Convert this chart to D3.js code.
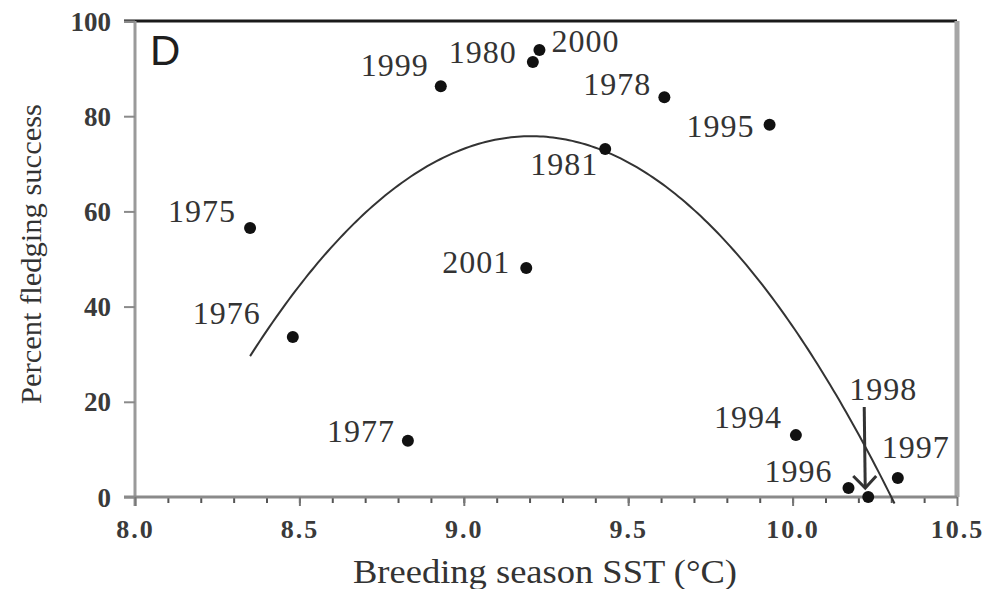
<!DOCTYPE html>
<html>
<head>
<meta charset="utf-8">
<script src="https://cdn.jsdelivr.net/npm/d3@7/dist/d3.min.js"></script>
<style>
  html, body { margin: 0; padding: 0; background: #fff; }
  svg { display: block; }
</style>
</head>
<body>
<svg id="chart" width="1000" height="589"></svg>
<script>
// Breeding season sea-surface temperature vs. fledging success, by year
const years       = [1975, 1976, 1977, 1978, 1980, 1981, 1994, 1995, 1996, 1997, 1998, 1999, 2000, 2001];
const sstValues   = [8.35, 8.48, 8.83, 9.61, 9.21, 9.43, 10.01, 9.93, 10.17, 10.32, 10.23, 8.93, 9.23, 9.19];
const successPct  = [56.5, 33.6, 11.8, 84.0, 91.4, 73.1, 13.0, 78.2, 1.9, 4.0, 0.0, 86.3, 93.9, 48.1];

// Quadratic fit, vertex form: [peak SST, peak success, curvature], over the fitted SST range
const trendFit    = [9.205, 75.8, 63.2];
const trendRange  = [8.35, 10.31];

const xTicks      = [8.0, 8.5, 9.0, 9.5, 10.0, 10.5];
const xMinorTicks = d3.range(81, 105).map(d => d / 10);
const yTicks      = [0, 20, 40, 60, 80, 100];

const panelLabel  = "D";
const xTitle      = "Breeding season SST (°C)";
const yTitle      = "Percent fledging success";
const arrowYear   = 1998;

// Label placement relative to each point (text start, baseline), in pixels
const labelOffsets = {
  1975: [-82, -6], 1976: [-100, -13], 1977: [-81, 1], 1978: [-81, -2],
  1980: [-84, 1],  1981: [-75, 26],   1994: [-82, -7], 1995: [-83, 12],
  1996: [-84, -6], 1997: [-16, -20],  1998: [-19, -97], 1999: [-80, -10],
  2000: [12, 2],   2001: [-84, 5]
};

const serif = "'Liberation Serif', 'Times New Roman', serif";
const sans  = "'Liberation Sans', Arial, sans-serif";

const svg = d3.select("#chart");
const margin = { top: 21, right: 43, bottom: 92, left: 135 };
const W = 1000, H = 589;
const innerW = W - margin.left - margin.right;
const innerH = H - margin.top - margin.bottom;

const x = d3.scaleLinear().domain([8.0, 10.5]).range([margin.left, margin.left + innerW]);
const y = d3.scaleLinear().domain([0, 100]).range([margin.top + innerH, margin.top]);

const textColor = "#333";

// Frame: dark top rule, grey right edge
svg.append("line")
  .attr("x1", x(8.0) - 11).attr("x2", x(10.5))
  .attr("y1", y(100)).attr("y2", y(100))
  .attr("stroke", "#1a1a1a").attr("stroke-width", 3);
svg.append("line")
  .attr("x1", x(10.5)).attr("x2", x(10.5))
  .attr("y1", y(100)).attr("y2", y(0))
  .attr("stroke", "#a6a6a6").attr("stroke-width", 5);

// Y axis
const yAxis = d3.axisLeft(y).tickValues(yTicks).tickSize(11).tickPadding(13).tickFormat(d3.format("d"));
const gy = svg.append("g").attr("transform", `translate(${x(8.0)},0)`).call(yAxis);
gy.select(".domain").attr("stroke", "#9a9a9a").attr("stroke-width", 3)
  .attr("d", `M-0,${y(100)}V${y(0) + 9}`);
gy.selectAll(".tick line").attr("stroke", "#8a8a8a").attr("stroke-width", 2);
gy.selectAll(".tick text")
  .style("font-family", serif).style("font-size", "27px").style("font-weight", "bold")
  .attr("fill", "#3a3a3a").attr("dy", "0.34em");

// X axis: minor ticks every 0.1, labelled majors every 0.5
const gxMinor = svg.append("g").attr("transform", `translate(0,${y(0)})`)
  .call(d3.axisBottom(x).tickValues(xMinorTicks).tickSize(6).tickFormat(""));
gxMinor.select(".domain").remove();
gxMinor.selectAll(".tick line").attr("stroke", "#555").attr("stroke-width", 2);

const xAxis = d3.axisBottom(x).tickValues(xTicks).tickSize(9).tickPadding(14).tickFormat(d3.format(".1f"));
const gx = svg.append("g").attr("transform", `translate(0,${y(0)})`).call(xAxis);
gx.select(".domain").attr("stroke", "#8a8a8a").attr("stroke-width", 3)
  .attr("d", `M${x(8.0) - 11},0H${x(10.5)}`);
gx.selectAll(".tick line").attr("stroke", "#777").attr("stroke-width", 2);
gx.selectAll(".tick text")
  .style("font-family", serif).style("font-size", "26px").style("font-weight", "bold")
  .style("letter-spacing", "2px")
  .attr("fill", "#3a3a3a").attr("dy", "0.71em");

// Axis titles
svg.append("text")
  .attr("x", 545).attr("y", 583)
  .attr("text-anchor", "middle")
  .style("font-family", serif).style("font-size", "33px")
  .attr("fill", textColor)
  .attr("textLength", 384).attr("lengthAdjust", "spacingAndGlyphs")
  .text(xTitle);

svg.append("text")
  .attr("transform", `translate(41,254) rotate(-90)`)
  .attr("text-anchor", "middle")
  .style("font-family", serif).style("font-size", "29px")
  .attr("fill", textColor)
  .attr("textLength", 300).attr("lengthAdjust", "spacingAndGlyphs")
  .text(yTitle);

// Panel letter
svg.append("text")
  .attr("x", 150).attr("y", 65)
  .style("font-family", sans).style("font-size", "42px")
  .attr("fill", "#1e1e1e")
  .text(panelLabel);

// Fitted curve
const [peakX, peakY, curv] = trendFit;
const curveSamples = d3.range(0, 201).map(i => {
  const sx = trendRange[0] + (trendRange[1] - trendRange[0]) * i / 200;
  return [sx, peakY - curv * (sx - peakX) * (sx - peakX)];
});
svg.append("path")
  .datum(curveSamples)
  .attr("fill", "none")
  .attr("stroke", "#333")
  .attr("stroke-width", 2)
  .attr("d", d3.line().x(d => x(d[0])).y(d => y(d[1])));

// Points and year labels
const pts = years.map((yr, i) => ({ year: yr, sst: sstValues[i], pct: successPct[i] }));

svg.append("g").selectAll("circle")
  .data(pts).join("circle")
  .attr("cx", d => x(d.sst)).attr("cy", d => y(d.pct))
  .attr("r", 6).attr("fill", "#111");

svg.append("g").selectAll("text")
  .data(pts).join("text")
  .attr("x", d => x(d.sst) + labelOffsets[d.year][0])
  .attr("y", d => y(d.pct) + labelOffsets[d.year][1])
  .style("font-family", serif).style("font-size", "32px").style("letter-spacing", "1px")
  .attr("fill", textColor)
  .text(d => d.year);

// Arrow pointing down to the 1998 point
const ap = pts.find(d => d.year === arrowYear);
const ax = x(ap.sst) - 4, tipY = y(ap.pct) - 9, topY = y(ap.pct) - 90;
const arrow = svg.append("g").attr("stroke", "#333").attr("stroke-width", 3).attr("fill", "none");
arrow.append("line").attr("x1", ax).attr("x2", ax + 1).attr("y1", topY).attr("y2", tipY);
arrow.append("path").attr("d", `M${ax - 11},${tipY - 12}L${ax + 1},${tipY}L${ax + 12},${tipY - 12}`);
</script>
</body>
</html>
